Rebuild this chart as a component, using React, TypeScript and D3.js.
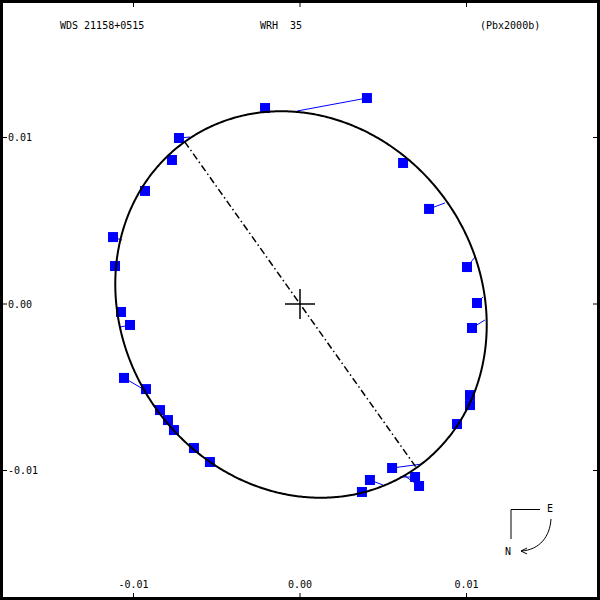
import React, { useEffect } from 'react'
import * as d3 from 'd3'

const W = 600
const H = 600

const headerTexts = ['WDS 21158+0515', 'WRH  35', '(Pbx2000b)']
const headerX = [60, 260, 480]
const tickValues = [-0.01, 0.0, 0.01]

// apparent orbit (arcsec)
const orbitCenter = [0.00006, -0.00003]
const orbitAxes = [0.01201, 0.01072]
const orbitAngle = -55.3 // deg, major axis
const nodeAngle = -54.6 // deg, line of nodes through primary

// measured positions (arcsec)
const obsX = [0.00402, -0.0021, -0.00727, -0.00769, -0.00931, -0.01123, -0.01111, -0.01075, -0.01021, -0.01057,
  -0.00925, -0.00841, -0.00793, -0.00757, -0.00637, -0.00541, 0.00372, 0.0042, 0.00553, 0.00691,
  0.00715, 0.00943, 0.01021, 0.01021, 0.01033, 0.01063, 0.01003, 0.00775, 0.00619]
const obsY = [0.01237, 0.01177, 0.00997, 0.00865, 0.00679, 0.00402, 0.00228, -0.00048, -0.00126, -0.00444,
  -0.00511, -0.00637, -0.00697, -0.00757, -0.00865, -0.00949, -0.01129, -0.01057, -0.00985, -0.01039,
  -0.01093, -0.00721, -0.00607, -0.00547, -0.00144, 0.00006, 0.00222, 0.00571, 0.00847]
// computed positions (null = closest point of the orbit)
const predX = [-0.00018, null, -0.00661, null, null, -0.01069, null, null, null, -0.00931,
  null, null, null, null, null, null, null, 0.00498, 0.00733, 0.006,
  0.0063, null, null, null, 0.01111, 0.01099, 0.01051, 0.00871, null]
const predY = [0.01159, null, 0.01003, null, null, 0.00384, null, null, null, -0.00517,
  null, null, null, null, null, null, null, -0.01087, -0.00961, -0.01039,
  -0.01033, null, null, null, -0.00096, 0.00042, 0.00282, 0.00607, null]

const x = d3.scaleLinear().domain([-0.01, 0.01]).range([133.5, 466.5])
const y = d3.scaleLinear().domain([-0.01, 0.01]).range([470.5, 137.5])

const phi = (orbitAngle * Math.PI) / 180
const [cx, cy] = orbitCenter
const [ea, eb] = orbitAxes

function orbitPoint(t: number): [number, number] {
  return [
    cx + ea * Math.cos(t) * Math.cos(phi) - eb * Math.sin(t) * Math.sin(phi),
    cy + ea * Math.cos(t) * Math.sin(phi) + eb * Math.sin(t) * Math.cos(phi),
  ]
}

const orbitPts = d3.range(0, 720).map((i) => orbitPoint((i / 720) * 2 * Math.PI))

function closest(px: number, py: number): [number, number] {
  let best = orbitPts[0]
  let bd = Infinity
  for (const p of orbitPts) {
    const d = (p[0] - px) ** 2 + (p[1] - py) ** 2
    if (d < bd) { bd = d; best = p }
  }
  return best
}

function nodeEnds(): [number, number][] {
  const th = (nodeAngle * Math.PI) / 180
  const dx = Math.cos(th), dy = Math.sin(th)
  const c = Math.cos(phi), s = Math.sin(phi)
  const ux = dx * c + dy * s, uy = -dx * s + dy * c
  const ox = -cx * c - cy * s, oy = cx * s - cy * c
  const A = (ux * ux) / (ea * ea) + (uy * uy) / (eb * eb)
  const B = 2 * ((ox * ux) / (ea * ea) + (oy * uy) / (eb * eb))
  const C = (ox * ox) / (ea * ea) + (oy * oy) / (eb * eb) - 1
  const disc = Math.sqrt(B * B - 4 * A * C)
  return [(-B - disc) / (2 * A), (-B + disc) / (2 * A)].map((t) => [t * dx, t * dy] as [number, number])
}

const mono = 'DejaVu Sans Mono, monospace'

export default function App() {
  useEffect(() => {
    document.body.style.margin = '0'
  }, [])

  const line = d3.line<[number, number]>().x((d) => x(d[0])).y((d) => y(d[1])).curve(d3.curveLinearClosed)
  const nodes = nodeEnds()
  const sq = 10

  return (
    <svg width={W} height={H} style={{ display: 'block', background: '#fff' }}>
      <rect x={1.5} y={1.5} width={W - 3} height={H - 3} fill="#fff" stroke="#000" strokeWidth={3} />

      {tickValues.map((v) => (
        <g key={'t' + v}>
          <line x1={x(v)} x2={x(v)} y1={0} y2={7} stroke="#000" />
          <line x1={x(v)} x2={x(v)} y1={H} y2={H - 7} stroke="#000" />
          <line y1={y(v)} y2={y(v)} x1={0} x2={7} stroke="#000" />
          <line y1={y(v)} y2={y(v)} x1={W} x2={W - 7} stroke="#000" />
          <text x={8} y={y(v)} dy="0.35em" fontFamily={mono} fontSize={10}>{v.toFixed(2)}</text>
          <text x={x(v)} y={588} textAnchor="middle" fontFamily={mono} fontSize={10}>{v.toFixed(2)}</text>
        </g>
      ))}

      {headerTexts.map((t, i) => (
        <text key={t} x={headerX[i]} y={29} fontFamily={mono} fontSize={10} style={{ whiteSpace: 'pre' }}>{t}</text>
      ))}

      {obsX.map((ox, i) => {
        const oy = obsY[i]
        const p = predX[i] != null ? [predX[i] as number, predY[i] as number] : closest(ox, oy)
        return <line key={'r' + i} x1={x(ox)} y1={y(oy)} x2={x(p[0])} y2={y(p[1])} stroke="#0000ff" strokeWidth={1} />
      })}
      {obsX.map((ox, i) => (
        <rect key={'o' + i} x={x(ox) - sq / 2} y={y(obsY[i]) - sq / 2} width={sq} height={sq} fill="#0000ff" />
      ))}

      <path d={line(orbitPts) || ''} fill="none" stroke="#000" strokeWidth={2} />
      <line x1={x(nodes[0][0])} y1={y(nodes[0][1])} x2={x(nodes[1][0])} y2={y(nodes[1][1])}
        stroke="#000" strokeWidth={1.5} strokeDasharray="7,3,1.5,3" />

      <line x1={x(0) - 15} x2={x(0) + 15} y1={y(0)} y2={y(0)} stroke="#000" strokeWidth={1.5} />
      <line x1={x(0)} x2={x(0)} y1={y(0) - 15} y2={y(0) + 15} stroke="#000" strokeWidth={1.5} />

      <g stroke="#000" fill="none" strokeWidth={1}>
        <path d="M511,539 V509.5 H540" />
        <path d="M551,519 C550,536 540,550 521,551" />
        <path d="M527,548 L521,551 L527,554" />
      </g>
      <text x={550} y={512} textAnchor="middle" fontFamily={mono} fontSize={10}>E</text>
      <text x={508} y={555} textAnchor="middle" fontFamily={mono} fontSize={10}>N</text>
    </svg>
  )
}
